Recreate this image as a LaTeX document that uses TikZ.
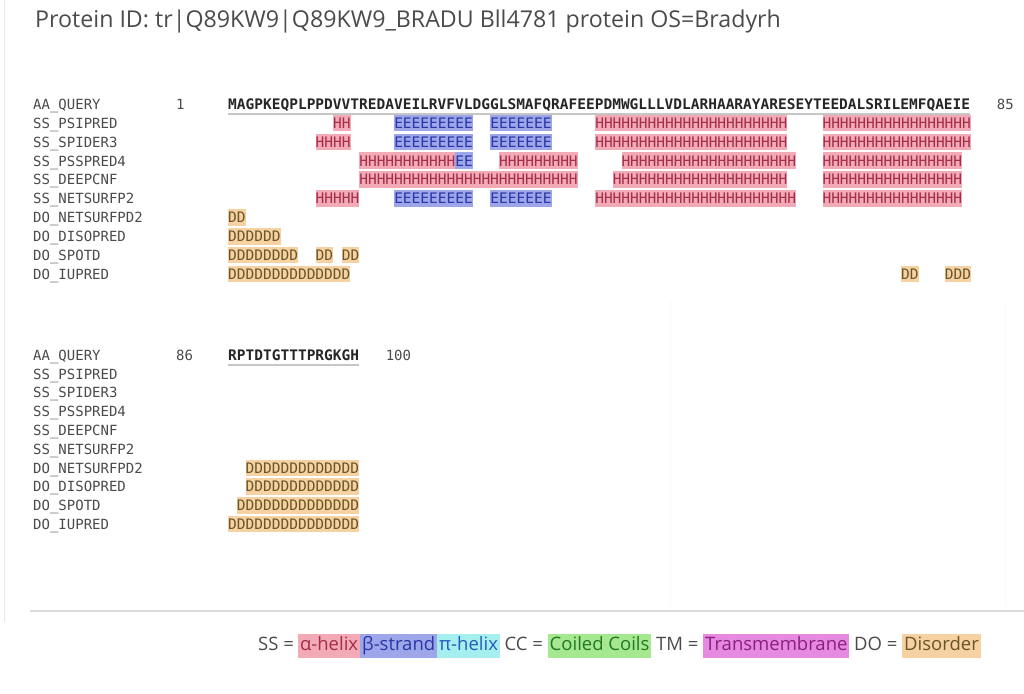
\documentclass[tikz,border=0pt]{standalone}
\usepackage{fontspec}
\setmainfont{Open Sans}
\setmonofont{DejaVu Sans Mono}
\usetikzlibrary{positioning}
\definecolor{helixbg}{RGB}{241,170,182}
\definecolor{helixfg}{RGB}{165,45,75}
\definecolor{strandbg}{RGB}{158,166,234}
\definecolor{strandfg}{RGB}{40,55,165}
\definecolor{pibg}{RGB}{165,240,238}
\definecolor{pifg}{RGB}{40,90,190}
\definecolor{coilbg}{RGB}{166,232,143}
\definecolor{coilfg}{RGB}{35,120,40}
\definecolor{tmbg}{RGB}{229,138,224}
\definecolor{tmfg}{RGB}{140,30,130}
\definecolor{disobg}{RGB}{246,210,162}
\definecolor{disofg}{RGB}{105,85,40}
\definecolor{txtgray}{RGB}{75,75,75}
\definecolor{rulegray}{RGB}{220,220,220}
\newcommand{\cw}{8.74}
\tikzset{
  title/.style={anchor=base west,inner sep=0pt,text=txtgray,
                font=\fontsize{23.2}{26}\selectfont},
  rowlbl/.style={anchor=west,inner sep=0pt,text=txtgray,
                 text height=10.6pt,text depth=0pt,
                 font=\ttfamily\fontsize{14}{15}\selectfont},
  seqtxt/.style={anchor=west,inner sep=0pt,text=black!85,
                 text height=10.6pt,text depth=0pt,
                 font=\ttfamily\bfseries\fontsize{14.5}{15}\selectfont},
  seg/.style={anchor=west,inner sep=0pt,minimum height=16.5pt,
              text height=10.6pt,text depth=0pt,fill=#1bg,text=#1fg,
              font=\ttfamily\fontsize{14.5}{15}\selectfont},
  legtxt/.style={inner xsep=0pt,inner ysep=3pt,text=txtgray,
                 text height=13.5pt,text depth=4.5pt,
                 font=\fontsize{18.5}{21}\selectfont},
  legbox/.style={legtxt,inner xsep=1.8pt,fill=#1bg,text=#1fg},
}

\begin{document}
\begin{tikzpicture}[x=1pt,y=-1pt]
  \useasboundingbox (0,0) rectangle (1024,693);
  \fill[white] (0,0) rectangle (1024,693);

  % page frame
  \draw[gray!18,line width=1pt] (4,0) -- (4,622);
  \draw[rulegray,line width=1.5pt] (30,611) -- (1024,611);
  \draw[gray!5,line width=0.8pt] (670,300) -- (670,605);
  \draw[gray!5,line width=0.8pt] (1005,300) -- (1005,605);

  \node[title] (title) at (35,28)
    {Protein ID: tr|Q89KW9|Q89KW9\_BRADU Bll4781 protein OS=Bradyrh};

  % row labels, both blocks
  \foreach \lbl [count=\i from 0] in {AA\_QUERY,SS\_PSIPRED,SS\_SPIDER3,
      SS\_PSSPRED4,SS\_DEEPCNF,SS\_NETSURFP2,DO\_NETSURFPD2,
      DO\_DISOPRED,DO\_SPOTD,DO\_IUPRED}{
    \node[rowlbl] (la\i) at (33,{104+18.9*\i}) {\lbl};
    \node[rowlbl] (lb\i) at (33,{355+18.8*\i}) {\lbl};
  }

  % query sequence
  \node[seqtxt] (seqa) at (228,104)
    {MAGPKEQPLPPDVVTREDAVEILRVFVLDGGLSMAFQRAFEEPDMWGLLLVDLARHAARAYARESEYTEEDALSRILEMFQAEIE};
  \node[seqtxt] (seqb) at (228,355) {RPTDTGTTTPRGKGH};
  \draw[gray!45,line width=1.3pt] ([yshift=-4.6pt]seqa.south west)
    -- ([yshift=-4.6pt]seqa.south east);
  \draw[gray!45,line width=1.3pt] ([yshift=-4.6pt]seqb.south west)
    -- ([yshift=-4.6pt]seqb.south east);
  \node[rowlbl] (na1) at (176,104) {1};
  \node[rowlbl,right=26.2pt of seqa] (na85) {85};
  \node[rowlbl] (nb86) at (176,355) {86};
  \node[rowlbl,right=26.2pt of seqb] (nb100) {100};

  % predictions, block 1 (row/start/kind/text)
  \foreach \r/\a/\k/\s in {
      1/13/helix/HH, 1/20/strand/EEEEEEEEE, 1/31/strand/EEEEEEE,
      1/43/helix/HHHHHHHHHHHHHHHHHHHHHH, 1/69/helix/HHHHHHHHHHHHHHHHH,
      2/11/helix/HHHH, 2/20/strand/EEEEEEEEE, 2/31/strand/EEEEEEE,
      2/43/helix/HHHHHHHHHHHHHHHHHHHHHH, 2/69/helix/HHHHHHHHHHHHHHHHH,
      3/16/helix/HHHHHHHHHHH, 3/27/strand/EE, 3/32/helix/HHHHHHHHH,
      3/46/helix/HHHHHHHHHHHHHHHHHHHH, 3/69/helix/HHHHHHHHHHHHHHHH,
      4/16/helix/HHHHHHHHHHHHHHHHHHHHHHHHH,
      4/45/helix/HHHHHHHHHHHHHHHHHHHH, 4/69/helix/HHHHHHHHHHHHHHHH,
      5/11/helix/HHHHH, 5/20/strand/EEEEEEEEE, 5/31/strand/EEEEEEE,
      5/43/helix/HHHHHHHHHHHHHHHHHHHHHHH, 5/69/helix/HHHHHHHHHHHHHHHH,
      6/1/diso/DD, 7/1/diso/DDDDDD,
      8/1/diso/DDDDDDDD, 8/11/diso/DD, 8/14/diso/DD,
      9/1/diso/DDDDDDDDDDDDDD, 9/78/diso/DD, 9/83/diso/DDD}{
    \node[seg=\k] (sa\r-\a) at ({228+(\a-1)*\cw},{104+18.9*\r}) {\s};
  }

  % predictions, block 2
  \foreach \r/\a/\s in {6/88/DDDDDDDDDDDDD, 7/88/DDDDDDDDDDDDD,
      8/87/DDDDDDDDDDDDDD, 9/86/DDDDDDDDDDDDDDD}{
    \node[seg=diso] (sb\r-\a) at ({228+(\a-86)*\cw},{355+18.8*\r}) {\s};
  }

  % legend
  \node[legtxt,anchor=west] (lss) at (258,646) {SS =};
  \node[legbox=helix,right=4pt of lss] (lhel) {α-helix};
  \node[legbox=strand,right=0pt of lhel] (lstr) {β-strand};
  \node[legbox=pi,right=0pt of lstr] (lpi) {π-helix};
  \node[legtxt,right=4.5pt of lpi] (lcc) {CC =};
  \node[legbox=coil,right=4.5pt of lcc] (lcoil) {Coiled Coils};
  \node[legtxt,right=4.5pt of lcoil] (ltm) {TM =};
  \node[legbox=tm,right=4.5pt of ltm] (ltmb) {Transmembrane};
  \node[legtxt,right=4.5pt of ltmb] (ldo) {DO =};
  \node[legbox=diso,right=4.5pt of ldo] (ldis) {Disorder};
\end{tikzpicture}
\end{document}
